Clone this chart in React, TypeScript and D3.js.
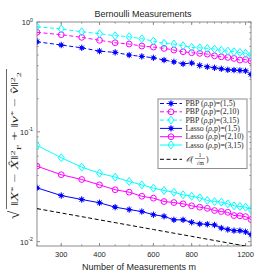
import React from "react";
import * as d3 from "d3";

const measurements = [250,300,350,400,450,500,550,600,650,700,750,800,850,900,950,1000,1050,1100,1150,1200,1250];
const pbp1 = [0.661,0.617,0.582,0.543,0.529,0.5,0.486,0.472,0.45,0.434,0.416,0.423,0.402,0.391,0.383,0.375,0.367,0.365,0.362,0.359,0.333];
const pbp2 = [0.805,0.766,0.725,0.681,0.647,0.63,0.604,0.591,0.575,0.555,0.536,0.525,0.518,0.51,0.492,0.482,0.476,0.466,0.45,0.456,0.44];
const pbp3 = [0.906,0.863,0.815,0.782,0.75,0.734,0.704,0.67,0.639,0.63,0.608,0.587,0.582,0.575,0.567,0.552,0.543,0.536,0.528,0.518,0.503];
const lasso1 = [0.0309,0.0263,0.0242,0.0226,0.0206,0.0196,0.0188,0.0176,0.017,0.0158,0.0158,0.015,0.0145,0.0144,0.0142,0.0133,0.0129,0.0126,0.0126,0.0123,0.0116];
const lasso2 = [0.0487,0.0407,0.0368,0.0329,0.0297,0.0282,0.0259,0.0249,0.0232,0.0227,0.0221,0.0212,0.0206,0.0201,0.0192,0.0188,0.0185,0.0173,0.0172,0.0169,0.0159];
const lasso3 = [0.0753,0.0581,0.0477,0.042,0.0387,0.0353,0.0329,0.0307,0.0292,0.0282,0.0267,0.0259,0.0251,0.0237,0.0232,0.0229,0.0221,0.0212,0.0209,0.0206,0.0196];
const refConst = 0.316;
const xTicks = [300, 400, 600, 800, 1200];
const yTicks = [1, 0.1, 0.01];
const yTickExp = ["0", "-1", "-2"];

const L = 37, R = 251, T = 22, B = 246;
const TXT = "#262626";
const AX = "#8c8c8c";

type Series = { label: string; rho: string; values: number[]; color: string; dashed: boolean; marker: string };
const series: Series[] = [
  { label: "PBP", rho: "(1,5)", values: pbp1, color: "#0000ff", dashed: true, marker: "star" },
  { label: "PBP", rho: "(2,10)", values: pbp2, color: "#ff00ff", dashed: true, marker: "circle" },
  { label: "PBP", rho: "(3,15)", values: pbp3, color: "#00ffff", dashed: true, marker: "diamond" },
  { label: "Lasso", rho: "(1,5)", values: lasso1, color: "#0000ff", dashed: false, marker: "star" },
  { label: "Lasso", rho: "(2,10)", values: lasso2, color: "#ff00ff", dashed: false, marker: "circle" },
  { label: "Lasso", rho: "(3,15)", values: lasso3, color: "#00ffff", dashed: false, marker: "diamond" },
];

function Marker({ type, x, y, color }: { type: string; x: number; y: number; color: string }) {
  if (type === "circle") return <circle cx={x} cy={y} r={2.9} fill="none" stroke={color} strokeWidth={1} />;
  if (type === "diamond")
    return <path d={`M${x},${y - 4}L${x + 3},${y}L${x},${y + 4}L${x - 3},${y}Z`} fill="none" stroke={color} strokeWidth={1} />;
  const r = 3.2, d = r * 0.707;
  return (
    <g stroke={color} strokeWidth={1}>
      <circle cx={x} cy={y} r={1.9} fill={color} stroke="none" />
      <line x1={x - r} y1={y} x2={x + r} y2={y} />
      <line x1={x} y1={y - r} x2={x} y2={y + r} />
      <line x1={x - d} y1={y - d} x2={x + d} y2={y + d} />
      <line x1={x - d} y1={y + d} x2={x + d} y2={y - d} />
    </g>
  );
}

export default function App() {
  const x = d3.scaleLog().domain([250, 1250]).range([L, R]);
  const y = d3.scaleLog().domain([0.00913, 1]).range([B, T]);
  const line = d3.line<number>().x((_, i) => x(measurements[i])).y((v) => y(v));
  const refVals = measurements.map((m) => refConst / Math.sqrt(m));

  const yMinor: number[] = [];
  for (const dec of [0.001, 0.01, 0.1]) for (let k = 2; k <= 9; k++) if (dec * k >= 0.00913) yMinor.push(dec * k);

  const legY0 = 103.5, legDy = 8.3;
  const lx0 = 160, lx1 = 182, lxm = 171, ltx = 185.5;
  const serif = "'Liberation Serif', 'Times New Roman', serif";

  return (
    <svg width={277} height={277} style={{ position: "absolute", left: 0, top: 0, background: "#fff" }}
      fontFamily="'Liberation Sans', Arial, sans-serif">
      <rect x={0} y={0} width={277} height={277} fill="#fff" />
      <defs>
        <clipPath id="plotclip"><rect x={L} y={T} width={R - L} height={B - T} /></clipPath>
      </defs>
      <rect x={L} y={T} width={R - L} height={B - T} fill="none" stroke={AX} strokeWidth={1} />
      {yTicks.map((t) => (
        <g key={"yt" + t}>
          <line x1={L} x2={L + 3} y1={y(t)} y2={y(t)} stroke={AX} />
          <line x1={R} x2={R - 3} y1={y(t)} y2={y(t)} stroke={AX} />
        </g>
      ))}
      {yMinor.map((t) => (
        <g key={"ym" + t}>
          <line x1={L} x2={L + 1.6} y1={y(t)} y2={y(t)} stroke={AX} />
          <line x1={R} x2={R - 1.6} y1={y(t)} y2={y(t)} stroke={AX} />
        </g>
      ))}
      {yTicks.map((t, i) => (
        <text key={"yl" + t} x={L - 4} y={y(t) + 3} fontSize={7.5} fill={TXT} textAnchor="end">
          10<tspan dy={-3.5} fontSize={5.2}>{yTickExp[i]}</tspan>
        </text>
      ))}
      {measurements.map((m) => (
        <g key={"xm" + m}>
          <line x1={x(m)} x2={x(m)} y1={B} y2={B - 1.6} stroke={AX} />
          <line x1={x(m)} x2={x(m)} y1={T} y2={T + 1.6} stroke={AX} />
        </g>
      ))}
      {xTicks.map((t) => (
        <g key={"xt" + t}>
          <line x1={x(t)} x2={x(t)} y1={B} y2={B - 3} stroke={AX} />
          <line x1={x(t)} x2={x(t)} y1={T} y2={T + 3} stroke={AX} />
          <text x={x(t)} y={257} fontSize={7.5} fill={TXT} textAnchor="middle">{t}</text>
        </g>
      ))}
      <text x={139} y={270} fontSize={9} fill={TXT} textAnchor="middle">Number of Measurements m</text>
      <text x={143} y={17} fontSize={9} fill={TXT} textAnchor="middle">Bernoulli Measurements</text>
      {/* y label */}
      <g transform="translate(15,143) rotate(-90)" fontFamily={serif} fill={TXT}>
        <text x={-76} y={4} fontSize={15}>√</text>
        <line x1={-66} x2={74} y1={-8.5} y2={-8.5} stroke={TXT} strokeWidth={0.7} />
        <text x={-63} y={3} fontSize={10} textLength={134} lengthAdjust="spacingAndGlyphs">
          ‖<tspan fontStyle="italic">X</tspan><tspan dy={-3} fontSize={6.5}>*</tspan><tspan dy={3}> − </tspan><tspan fontStyle="italic">X̂</tspan>‖<tspan dy={-3.5} fontSize={6.5}>2</tspan><tspan dy={6} fontSize={6.5}>F</tspan><tspan dy={-2.5}> + </tspan>‖<tspan fontStyle="italic">v</tspan><tspan dy={-3} fontSize={6.5}>*</tspan><tspan dy={3}> − </tspan><tspan fontStyle="italic">v̂</tspan>‖<tspan dy={-3.5} fontSize={6.5}>2</tspan><tspan dy={6} fontSize={6.5}>2</tspan>
        </text>
      </g>
      <g clipPath="url(#plotclip)">
        <path d={line(refVals) || ""} fill="none" stroke="#000" strokeWidth={1} strokeDasharray="4,2.5" />
        {series.map((s, si) => (
          <g key={"s" + si}>
            <path d={line(s.values) || ""} fill="none" stroke={s.color} strokeWidth={1} strokeDasharray={s.dashed ? "4,2.5" : undefined} />
            {s.values.map((v, i) => (
              <Marker key={i} type={s.marker} x={x(measurements[i])} y={y(v)} color={s.color} />
            ))}
          </g>
        ))}
      </g>
      <rect x={158} y={99} width={89} height={69.5} fill="#fff" stroke={AX} strokeWidth={1} />
      <g fontFamily={serif} fontSize={7.8} fill={TXT}>
        {series.map((s, i) => {
          const yy = legY0 + i * legDy;
          return (
            <g key={"lg" + i}>
              <line x1={lx0} x2={lx1} y1={yy} y2={yy} stroke={s.color} strokeWidth={1} strokeDasharray={s.dashed ? "4,2.5" : undefined} />
              <Marker type={s.marker} x={lxm} y={yy} color={s.color} />
              <text x={ltx} y={yy + 2.6}>
                {s.label} (<tspan fontStyle="italic">ρ</tspan>,p)={s.rho}
              </text>
            </g>
          );
        })}
        <line x1={lx0} x2={lx1} y1={159.3} y2={159.3} stroke="#000" strokeWidth={1} strokeDasharray="4,2.5" />
        <text x={ltx} y={162} fontStyle="italic">𝒪(</text>
        <text x={200} y={157} fontSize={6} textAnchor="middle">1</text>
        <line x1={195} x2={205} y1={158.5} y2={158.5} stroke={TXT} strokeWidth={0.5} />
        <text x={200} y={165} fontSize={6} textAnchor="middle">√m</text>
        <text x={206} y={162}>)</text>
      </g>
    </svg>
  );
}
